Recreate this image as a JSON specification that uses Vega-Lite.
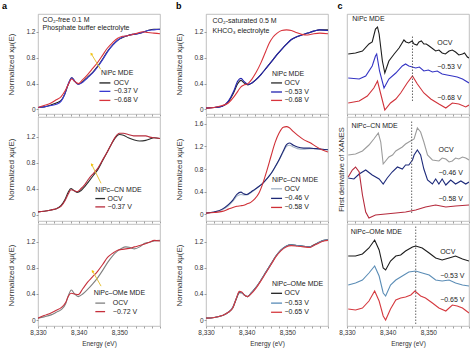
{
"$schema":"https://vega.github.io/schema/vega-lite/v6.json",
"padding":{"left":1,"top":1,"right":0,"bottom":0},
"datasets":{
"w":[
{"p":"a1","E":8330,"OCV":0.03,"m1":0.03,"m2":0.03},{"p":"a1","E":8331.5,"OCV":0.04,"m1":0.04,"m2":0.06},{"p":"a1","E":8333.2,"OCV":0.07,"m1":0.06,"m2":0.10},{"p":"a1","E":8334.5,"OCV":0.10,"m1":0.08,"m2":0.15},{"p":"a1","E":8335.7,"OCV":0.14,"m1":0.13,"m2":0.20},{"p":"a1","E":8336.6,"OCV":0.24,"m1":0.24,"m2":0.28},{"p":"a1","E":8337.4,"OCV":0.38,"m1":0.39,"m2":0.38},{"p":"a1","E":8338.3,"OCV":0.49,"m1":0.49,"m2":0.47},{"p":"a1","E":8339.1,"OCV":0.43,"m1":0.43,"m2":0.43},{"p":"a1","E":8339.9,"OCV":0.39,"m1":0.39,"m2":0.40},{"p":"a1","E":8341.0,"OCV":0.43,"m1":0.42,"m2":0.46},{"p":"a1","E":8342.2,"OCV":0.50,"m1":0.49,"m2":0.54},{"p":"a1","E":8343.4,"OCV":0.57,"m1":0.56,"m2":0.63},{"p":"a1","E":8344.7,"OCV":0.67,"m1":0.66,"m2":0.73},{"p":"a1","E":8345.9,"OCV":0.78,"m1":0.77,"m2":0.84},{"p":"a1","E":8347.1,"OCV":0.90,"m1":0.89,"m2":0.95},{"p":"a1","E":8348.3,"OCV":0.99,"m1":0.99,"m2":1.03},{"p":"a1","E":8349.6,"OCV":1.07,"m1":1.07,"m2":1.10},{"p":"a1","E":8350.8,"OCV":1.11,"m1":1.12,"m2":1.13},{"p":"a1","E":8352.0,"OCV":1.14,"m1":1.14,"m2":1.14},{"p":"a1","E":8353.3,"OCV":1.16,"m1":1.16,"m2":1.16},{"p":"a1","E":8354.5,"OCV":1.17,"m1":1.17,"m2":1.18},{"p":"a1","E":8355.7,"OCV":1.19,"m1":1.19,"m2":1.20},{"p":"a1","E":8357.0,"OCV":1.22,"m1":1.22,"m2":1.19},{"p":"a1","E":8358.5,"OCV":1.24,"m1":1.23,"m2":1.18},{"p":"a1","E":8360,"OCV":1.24,"m1":1.24,"m2":1.17},
{"p":"b1","E":8330,"OCV":0.02,"m1":0.02,"m2":0.02},{"p":"b1","E":8332,"OCV":0.03,"m1":0.03,"m2":0.03},{"p":"b1","E":8334,"OCV":0.05,"m1":0.05,"m2":0.06},{"p":"b1","E":8335.5,"OCV":0.12,"m1":0.13,"m2":0.10},{"p":"b1","E":8336.8,"OCV":0.26,"m1":0.28,"m2":0.19},{"p":"b1","E":8337.8,"OCV":0.40,"m1":0.44,"m2":0.28},{"p":"b1","E":8338.6,"OCV":0.45,"m1":0.48,"m2":0.35},{"p":"b1","E":8339.4,"OCV":0.41,"m1":0.43,"m2":0.38},{"p":"b1","E":8340.3,"OCV":0.38,"m1":0.39,"m2":0.40},{"p":"b1","E":8341.3,"OCV":0.41,"m1":0.41,"m2":0.47},{"p":"b1","E":8342.3,"OCV":0.46,"m1":0.46,"m2":0.57},{"p":"b1","E":8343.5,"OCV":0.54,"m1":0.54,"m2":0.72},{"p":"b1","E":8344.7,"OCV":0.63,"m1":0.63,"m2":0.90},{"p":"b1","E":8345.6,"OCV":0.70,"m1":0.70,"m2":1.03},{"p":"b1","E":8346.5,"OCV":0.77,"m1":0.77,"m2":1.12},{"p":"b1","E":8347.5,"OCV":0.85,"m1":0.85,"m2":1.18},{"p":"b1","E":8348.6,"OCV":0.93,"m1":0.93,"m2":1.22},{"p":"b1","E":8349.8,"OCV":1.01,"m1":1.01,"m2":1.23},{"p":"b1","E":8351.0,"OCV":1.08,"m1":1.08,"m2":1.22},{"p":"b1","E":8352.2,"OCV":1.12,"m1":1.12,"m2":1.19},{"p":"b1","E":8353.5,"OCV":1.15,"m1":1.15,"m2":1.16},{"p":"b1","E":8355.0,"OCV":1.18,"m1":1.18,"m2":1.15},{"p":"b1","E":8356.5,"OCV":1.21,"m1":1.21,"m2":1.17},{"p":"b1","E":8358.0,"OCV":1.23,"m1":1.23,"m2":1.18},{"p":"b1","E":8360,"OCV":1.23,"m1":1.22,"m2":1.17},
{"p":"a2","E":8330,"OCV":0.04,"m1":0.04},{"p":"a2","E":8331.5,"OCV":0.05,"m1":0.05},{"p":"a2","E":8333.2,"OCV":0.07,"m1":0.07},{"p":"a2","E":8334.5,"OCV":0.09,"m1":0.09},{"p":"a2","E":8335.7,"OCV":0.14,"m1":0.13},{"p":"a2","E":8336.7,"OCV":0.24,"m1":0.22},{"p":"a2","E":8337.4,"OCV":0.34,"m1":0.31},{"p":"a2","E":8338.1,"OCV":0.40,"m1":0.38},{"p":"a2","E":8338.8,"OCV":0.37,"m1":0.37},{"p":"a2","E":8339.6,"OCV":0.34,"m1":0.35},{"p":"a2","E":8340.6,"OCV":0.37,"m1":0.40},{"p":"a2","E":8341.5,"OCV":0.43,"m1":0.46},{"p":"a2","E":8342.5,"OCV":0.51,"m1":0.55},{"p":"a2","E":8343.6,"OCV":0.60,"m1":0.63},{"p":"a2","E":8344.7,"OCV":0.69,"m1":0.71},{"p":"a2","E":8345.9,"OCV":0.83,"m1":0.84},{"p":"a2","E":8347.1,"OCV":0.97,"m1":0.97},{"p":"a2","E":8348.1,"OCV":1.09,"m1":1.09},{"p":"a2","E":8349.0,"OCV":1.18,"m1":1.19},{"p":"a2","E":8350.0,"OCV":1.23,"m1":1.25},{"p":"a2","E":8351.0,"OCV":1.22,"m1":1.25},{"p":"a2","E":8352.2,"OCV":1.18,"m1":1.23},{"p":"a2","E":8353.5,"OCV":1.15,"m1":1.21},{"p":"a2","E":8355.0,"OCV":1.13,"m1":1.21},{"p":"a2","E":8356.5,"OCV":1.14,"m1":1.21},{"p":"a2","E":8357.5,"OCV":1.16,"m1":1.19},{"p":"a2","E":8358.5,"OCV":1.18,"m1":1.18},{"p":"a2","E":8360,"OCV":1.17,"m1":1.17},
{"p":"b2","E":8330,"OCV":0.02,"m1":0.02,"m2":0.02},{"p":"b2","E":8332,"OCV":0.04,"m1":0.04,"m2":0.03},{"p":"b2","E":8334,"OCV":0.08,"m1":0.09,"m2":0.05},{"p":"b2","E":8335.5,"OCV":0.15,"m1":0.17,"m2":0.09},{"p":"b2","E":8336.6,"OCV":0.23,"m1":0.25,"m2":0.12},{"p":"b2","E":8337.6,"OCV":0.32,"m1":0.35,"m2":0.14},{"p":"b2","E":8338.6,"OCV":0.35,"m1":0.39,"m2":0.15},{"p":"b2","E":8339.3,"OCV":0.34,"m1":0.36,"m2":0.16},{"p":"b2","E":8340.0,"OCV":0.34,"m1":0.35,"m2":0.18},{"p":"b2","E":8341.0,"OCV":0.38,"m1":0.39,"m2":0.21},{"p":"b2","E":8342.0,"OCV":0.43,"m1":0.44,"m2":0.27},{"p":"b2","E":8343.0,"OCV":0.49,"m1":0.49,"m2":0.37},{"p":"b2","E":8344.0,"OCV":0.55,"m1":0.55,"m2":0.55},{"p":"b2","E":8345.0,"OCV":0.63,"m1":0.63,"m2":0.78},{"p":"b2","E":8346.0,"OCV":0.72,"m1":0.72,"m2":1.03},{"p":"b2","E":8347.0,"OCV":0.83,"m1":0.84,"m2":1.27},{"p":"b2","E":8348.0,"OCV":0.96,"m1":0.97,"m2":1.44},{"p":"b2","E":8349.0,"OCV":1.10,"m1":1.12,"m2":1.54},{"p":"b2","E":8349.8,"OCV":1.20,"m1":1.23,"m2":1.55},{"p":"b2","E":8350.5,"OCV":1.22,"m1":1.26,"m2":1.53},{"p":"b2","E":8351.5,"OCV":1.19,"m1":1.22,"m2":1.46},{"p":"b2","E":8352.5,"OCV":1.16,"m1":1.19,"m2":1.40},{"p":"b2","E":8354.0,"OCV":1.15,"m1":1.17,"m2":1.32},{"p":"b2","E":8355.5,"OCV":1.16,"m1":1.17,"m2":1.27},{"p":"b2","E":8357.0,"OCV":1.16,"m1":1.16,"m2":1.20},{"p":"b2","E":8358.5,"OCV":1.15,"m1":1.15,"m2":1.14},{"p":"b2","E":8360,"OCV":1.14,"m1":1.14,"m2":1.10},
{"p":"a3","E":8330,"OCV":0.03,"m1":0.03},{"p":"a3","E":8331.5,"OCV":0.05,"m1":0.07},{"p":"a3","E":8333.2,"OCV":0.08,"m1":0.11},{"p":"a3","E":8334.5,"OCV":0.12,"m1":0.15},{"p":"a3","E":8335.7,"OCV":0.16,"m1":0.19},{"p":"a3","E":8336.8,"OCV":0.25,"m1":0.27},{"p":"a3","E":8337.5,"OCV":0.38,"m1":0.37},{"p":"a3","E":8338.2,"OCV":0.46,"m1":0.41},{"p":"a3","E":8339.0,"OCV":0.40,"m1":0.40},{"p":"a3","E":8339.9,"OCV":0.36,"m1":0.39},{"p":"a3","E":8341.0,"OCV":0.40,"m1":0.48},{"p":"a3","E":8342.2,"OCV":0.47,"m1":0.58},{"p":"a3","E":8343.4,"OCV":0.55,"m1":0.66},{"p":"a3","E":8344.7,"OCV":0.65,"m1":0.75},{"p":"a3","E":8345.9,"OCV":0.76,"m1":0.85},{"p":"a3","E":8347.1,"OCV":0.88,"m1":0.96},{"p":"a3","E":8348.3,"OCV":0.98,"m1":1.02},{"p":"a3","E":8349.6,"OCV":1.06,"m1":1.07},{"p":"a3","E":8350.6,"OCV":1.10,"m1":1.08},{"p":"a3","E":8351.6,"OCV":1.12,"m1":1.09},{"p":"a3","E":8352.7,"OCV":1.11,"m1":1.10},{"p":"a3","E":8353.7,"OCV":1.09,"m1":1.12},{"p":"a3","E":8355.0,"OCV":1.12,"m1":1.14},{"p":"a3","E":8356.1,"OCV":1.17,"m1":1.16},{"p":"a3","E":8357.4,"OCV":1.19,"m1":1.19},{"p":"a3","E":8358.6,"OCV":1.21,"m1":1.22},{"p":"a3","E":8360,"OCV":1.22,"m1":1.21},
{"p":"b3","E":8330,"OCV":0.03,"m1":0.03,"m2":0.03},{"p":"b3","E":8332,"OCV":0.04,"m1":0.04,"m2":0.04},{"p":"b3","E":8334,"OCV":0.07,"m1":0.07,"m2":0.07},{"p":"b3","E":8335.5,"OCV":0.12,"m1":0.12,"m2":0.12},{"p":"b3","E":8336.6,"OCV":0.19,"m1":0.20,"m2":0.19},{"p":"b3","E":8337.5,"OCV":0.33,"m1":0.34,"m2":0.34},{"p":"b3","E":8338.2,"OCV":0.42,"m1":0.43,"m2":0.44},{"p":"b3","E":8338.8,"OCV":0.42,"m1":0.42,"m2":0.43},{"p":"b3","E":8339.5,"OCV":0.38,"m1":0.38,"m2":0.38},{"p":"b3","E":8340.2,"OCV":0.36,"m1":0.36,"m2":0.36},{"p":"b3","E":8341.2,"OCV":0.42,"m1":0.42,"m2":0.41},{"p":"b3","E":8342.3,"OCV":0.50,"m1":0.50,"m2":0.49},{"p":"b3","E":8343.5,"OCV":0.61,"m1":0.61,"m2":0.60},{"p":"b3","E":8344.7,"OCV":0.73,"m1":0.73,"m2":0.72},{"p":"b3","E":8346.0,"OCV":0.86,"m1":0.86,"m2":0.85},{"p":"b3","E":8347.2,"OCV":0.98,"m1":0.98,"m2":0.97},{"p":"b3","E":8348.4,"OCV":1.07,"m1":1.07,"m2":1.06},{"p":"b3","E":8349.7,"OCV":1.13,"m1":1.13,"m2":1.12},{"p":"b3","E":8351.0,"OCV":1.15,"m1":1.15,"m2":1.14},{"p":"b3","E":8352.5,"OCV":1.14,"m1":1.14,"m2":1.13},{"p":"b3","E":8354.0,"OCV":1.13,"m1":1.13,"m2":1.12},{"p":"b3","E":8355.5,"OCV":1.12,"m1":1.12,"m2":1.11},{"p":"b3","E":8356.5,"OCV":1.15,"m1":1.14,"m2":1.14},{"p":"b3","E":8357.8,"OCV":1.19,"m1":1.19,"m2":1.18},{"p":"b3","E":8359,"OCV":1.22,"m1":1.22,"m2":1.21},{"p":"b3","E":8360,"OCV":1.23,"m1":1.23,"m2":1.22}
],
"c":[
{"p":"c1","s":"OCV","E":8330.3,"v":60},{"p":"c1","s":"OCV","E":8332.1,"v":61},{"p":"c1","s":"OCV","E":8333.8,"v":63},{"p":"c1","s":"OCV","E":8335.4,"v":70},{"p":"c1","s":"OCV","E":8336.2,"v":72},{"p":"c1","s":"OCV","E":8337.0,"v":85},{"p":"c1","s":"OCV","E":8337.5,"v":87},{"p":"c1","s":"OCV","E":8337.9,"v":80},{"p":"c1","s":"OCV","E":8338.7,"v":53},{"p":"c1","s":"OCV","E":8339.3,"v":41},{"p":"c1","s":"OCV","E":8340.3,"v":53},{"p":"c1","s":"OCV","E":8341.6,"v":60},{"p":"c1","s":"OCV","E":8342.8,"v":66},{"p":"c1","s":"OCV","E":8343.4,"v":70},{"p":"c1","s":"OCV","E":8344.0,"v":74},{"p":"c1","s":"OCV","E":8344.5,"v":72},{"p":"c1","s":"OCV","E":8345.2,"v":71},{"p":"c1","s":"OCV","E":8346.0,"v":73},{"p":"c1","s":"OCV","E":8346.5,"v":70},{"p":"c1","s":"OCV","E":8347.2,"v":69},{"p":"c1","s":"OCV","E":8347.7,"v":72},{"p":"c1","s":"OCV","E":8348.3,"v":73},{"p":"c1","s":"OCV","E":8348.9,"v":70},{"p":"c1","s":"OCV","E":8349.5,"v":70},{"p":"c1","s":"OCV","E":8350.2,"v":68},{"p":"c1","s":"OCV","E":8351.8,"v":63},{"p":"c1","s":"OCV","E":8352.6,"v":64},{"p":"c1","s":"OCV","E":8353.4,"v":61},{"p":"c1","s":"OCV","E":8354.2,"v":60},{"p":"c1","s":"OCV","E":8355.1,"v":63},{"p":"c1","s":"OCV","E":8355.9,"v":64},{"p":"c1","s":"OCV","E":8356.7,"v":62},{"p":"c1","s":"OCV","E":8357.5,"v":59},{"p":"c1","s":"OCV","E":8358.4,"v":60},{"p":"c1","s":"OCV","E":8358.9,"v":61},{"p":"c1","s":"OCV","E":8359.6,"v":57},{"p":"c1","s":"OCV","E":8360,"v":56},
{"p":"c1","s":"m1","E":8330.3,"v":36},{"p":"c1","s":"m1","E":8333.0,"v":35},{"p":"c1","s":"m1","E":8334.6,"v":38},{"p":"c1","s":"m1","E":8336.2,"v":48},{"p":"c1","s":"m1","E":8337.0,"v":58},{"p":"c1","s":"m1","E":8337.3,"v":60},{"p":"c1","s":"m1","E":8338.0,"v":43},{"p":"c1","s":"m1","E":8339.1,"v":26},{"p":"c1","s":"m1","E":8340.3,"v":35},{"p":"c1","s":"m1","E":8342.0,"v":41},{"p":"c1","s":"m1","E":8343.6,"v":48},{"p":"c1","s":"m1","E":8344.4,"v":50},{"p":"c1","s":"m1","E":8345.2,"v":48},{"p":"c1","s":"m1","E":8346.9,"v":46},{"p":"c1","s":"m1","E":8347.8,"v":47},{"p":"c1","s":"m1","E":8348.9,"v":43},{"p":"c1","s":"m1","E":8350.0,"v":44},{"p":"c1","s":"m1","E":8351.0,"v":42},{"p":"c1","s":"m1","E":8352.2,"v":43},{"p":"c1","s":"m1","E":8353.4,"v":40},{"p":"c1","s":"m1","E":8354.6,"v":39},{"p":"c1","s":"m1","E":8355.9,"v":38},{"p":"c1","s":"m1","E":8357.1,"v":37},{"p":"c1","s":"m1","E":8358.4,"v":35},{"p":"c1","s":"m1","E":8360,"v":31},
{"p":"c1","s":"m2","E":8330.3,"v":11},{"p":"c1","s":"m2","E":8333.0,"v":13},{"p":"c1","s":"m2","E":8335.0,"v":18},{"p":"c1","s":"m2","E":8336.6,"v":26},{"p":"c1","s":"m2","E":8337.5,"v":33},{"p":"c1","s":"m2","E":8338.3,"v":20},{"p":"c1","s":"m2","E":8339.3,"v":4},{"p":"c1","s":"m2","E":8340.7,"v":11},{"p":"c1","s":"m2","E":8342.0,"v":15},{"p":"c1","s":"m2","E":8343.2,"v":21},{"p":"c1","s":"m2","E":8344.8,"v":31},{"p":"c1","s":"m2","E":8346.1,"v":38},{"p":"c1","s":"m2","E":8347.3,"v":30},{"p":"c1","s":"m2","E":8348.9,"v":21},{"p":"c1","s":"m2","E":8350.6,"v":15},{"p":"c1","s":"m2","E":8352.6,"v":10},{"p":"c1","s":"m2","E":8354.3,"v":6},{"p":"c1","s":"m2","E":8355.9,"v":11},{"p":"c1","s":"m2","E":8357.5,"v":10},{"p":"c1","s":"m2","E":8359.2,"v":7},{"p":"c1","s":"m2","E":8360,"v":9},
{"p":"c2","s":"OCV","E":8330.3,"v":66},{"p":"c2","s":"OCV","E":8332.1,"v":67},{"p":"c2","s":"OCV","E":8333.8,"v":70},{"p":"c2","s":"OCV","E":8335.4,"v":76},{"p":"c2","s":"OCV","E":8336.6,"v":82},{"p":"c2","s":"OCV","E":8337.7,"v":88},{"p":"c2","s":"OCV","E":8338.3,"v":79},{"p":"c2","s":"OCV","E":8338.9,"v":57},{"p":"c2","s":"OCV","E":8340.3,"v":64},{"p":"c2","s":"OCV","E":8341.2,"v":66},{"p":"c2","s":"OCV","E":8342.0,"v":70},{"p":"c2","s":"OCV","E":8343.6,"v":74},{"p":"c2","s":"OCV","E":8344.4,"v":77},{"p":"c2","s":"OCV","E":8345.2,"v":79},{"p":"c2","s":"OCV","E":8346.5,"v":82},{"p":"c2","s":"OCV","E":8347.3,"v":93},{"p":"c2","s":"OCV","E":8348.1,"v":89},{"p":"c2","s":"OCV","E":8348.9,"v":79},{"p":"c2","s":"OCV","E":8349.8,"v":66},{"p":"c2","s":"OCV","E":8351.0,"v":61},{"p":"c2","s":"OCV","E":8352.6,"v":60},{"p":"c2","s":"OCV","E":8353.4,"v":63},{"p":"c2","s":"OCV","E":8354.3,"v":62},{"p":"c2","s":"OCV","E":8355.1,"v":59},{"p":"c2","s":"OCV","E":8355.9,"v":60},{"p":"c2","s":"OCV","E":8356.7,"v":63},{"p":"c2","s":"OCV","E":8357.5,"v":62},{"p":"c2","s":"OCV","E":8358.4,"v":64},{"p":"c2","s":"OCV","E":8359.2,"v":63},{"p":"c2","s":"OCV","E":8360,"v":61},
{"p":"c2","s":"m1","E":8330.3,"v":43},{"p":"c2","s":"m1","E":8331.7,"v":42},{"p":"c2","s":"m1","E":8333.0,"v":47},{"p":"c2","s":"m1","E":8334.6,"v":51},{"p":"c2","s":"m1","E":8336.2,"v":46},{"p":"c2","s":"m1","E":8337.9,"v":42},{"p":"c2","s":"m1","E":8338.9,"v":37},{"p":"c2","s":"m1","E":8339.9,"v":43},{"p":"c2","s":"m1","E":8341.1,"v":49},{"p":"c2","s":"m1","E":8342.4,"v":54},{"p":"c2","s":"m1","E":8343.6,"v":52},{"p":"c2","s":"m1","E":8344.4,"v":56},{"p":"c2","s":"m1","E":8345.2,"v":56},{"p":"c2","s":"m1","E":8346.1,"v":61},{"p":"c2","s":"m1","E":8346.5,"v":66},{"p":"c2","s":"m1","E":8347.3,"v":71},{"p":"c2","s":"m1","E":8348.1,"v":66},{"p":"c2","s":"m1","E":8348.9,"v":52},{"p":"c2","s":"m1","E":8349.8,"v":41},{"p":"c2","s":"m1","E":8351.0,"v":37},{"p":"c2","s":"m1","E":8351.8,"v":42},{"p":"c2","s":"m1","E":8352.6,"v":37},{"p":"c2","s":"m1","E":8353.4,"v":42},{"p":"c2","s":"m1","E":8354.3,"v":36},{"p":"c2","s":"m1","E":8355.5,"v":41},{"p":"c2","s":"m1","E":8356.7,"v":37},{"p":"c2","s":"m1","E":8358.0,"v":40},{"p":"c2","s":"m1","E":8359.2,"v":37},{"p":"c2","s":"m1","E":8360,"v":39},
{"p":"c2","s":"m2","E":8330.3,"v":44},{"p":"c2","s":"m2","E":8331.3,"v":51},{"p":"c2","s":"m2","E":8332.1,"v":54},{"p":"c2","s":"m2","E":8333.0,"v":49},{"p":"c2","s":"m2","E":8333.8,"v":26},{"p":"c2","s":"m2","E":8334.6,"v":9},{"p":"c2","s":"m2","E":8335.4,"v":3},{"p":"c2","s":"m2","E":8337.0,"v":6},{"p":"c2","s":"m2","E":8339.5,"v":7},{"p":"c2","s":"m2","E":8342.0,"v":8},{"p":"c2","s":"m2","E":8344.4,"v":9},{"p":"c2","s":"m2","E":8346.9,"v":11},{"p":"c2","s":"m2","E":8349.3,"v":14},{"p":"c2","s":"m2","E":8351.8,"v":16},{"p":"c2","s":"m2","E":8354.3,"v":14},{"p":"c2","s":"m2","E":8356.7,"v":15},{"p":"c2","s":"m2","E":8360,"v":16},
{"p":"c3","s":"OCV","E":8330.3,"v":70},{"p":"c3","s":"OCV","E":8332.1,"v":70},{"p":"c3","s":"OCV","E":8333.8,"v":72},{"p":"c3","s":"OCV","E":8335.4,"v":78},{"p":"c3","s":"OCV","E":8336.8,"v":86},{"p":"c3","s":"OCV","E":8337.9,"v":76},{"p":"c3","s":"OCV","E":8338.9,"v":58},{"p":"c3","s":"OCV","E":8339.5,"v":56},{"p":"c3","s":"OCV","E":8340.7,"v":65},{"p":"c3","s":"OCV","E":8342.0,"v":70},{"p":"c3","s":"OCV","E":8343.2,"v":71},{"p":"c3","s":"OCV","E":8344.4,"v":75},{"p":"c3","s":"OCV","E":8346.1,"v":79},{"p":"c3","s":"OCV","E":8346.9,"v":80},{"p":"c3","s":"OCV","E":8348.5,"v":78},{"p":"c3","s":"OCV","E":8350.2,"v":73},{"p":"c3","s":"OCV","E":8351.8,"v":68},{"p":"c3","s":"OCV","E":8353.4,"v":66},{"p":"c3","s":"OCV","E":8355.1,"v":68},{"p":"c3","s":"OCV","E":8356.7,"v":70},{"p":"c3","s":"OCV","E":8358.4,"v":67},{"p":"c3","s":"OCV","E":8360,"v":65},
{"p":"c3","s":"m1","E":8330.3,"v":41},{"p":"c3","s":"m1","E":8332.1,"v":43},{"p":"c3","s":"m1","E":8333.8,"v":46},{"p":"c3","s":"m1","E":8335.4,"v":53},{"p":"c3","s":"m1","E":8336.8,"v":60},{"p":"c3","s":"m1","E":8337.9,"v":50},{"p":"c3","s":"m1","E":8338.9,"v":33},{"p":"c3","s":"m1","E":8339.5,"v":30},{"p":"c3","s":"m1","E":8340.7,"v":41},{"p":"c3","s":"m1","E":8342.0,"v":46},{"p":"c3","s":"m1","E":8343.6,"v":50},{"p":"c3","s":"m1","E":8345.2,"v":54},{"p":"c3","s":"m1","E":8346.9,"v":55},{"p":"c3","s":"m1","E":8348.5,"v":53},{"p":"c3","s":"m1","E":8350.2,"v":51},{"p":"c3","s":"m1","E":8351.8,"v":46},{"p":"c3","s":"m1","E":8353.4,"v":45},{"p":"c3","s":"m1","E":8355.1,"v":46},{"p":"c3","s":"m1","E":8356.7,"v":43},{"p":"c3","s":"m1","E":8358.4,"v":41},{"p":"c3","s":"m1","E":8360,"v":40},
{"p":"c3","s":"m2","E":8330.3,"v":17},{"p":"c3","s":"m2","E":8332.1,"v":16},{"p":"c3","s":"m2","E":8333.8,"v":18},{"p":"c3","s":"m2","E":8335.4,"v":25},{"p":"c3","s":"m2","E":8336.8,"v":35},{"p":"c3","s":"m2","E":8337.9,"v":25},{"p":"c3","s":"m2","E":8338.9,"v":10},{"p":"c3","s":"m2","E":8339.5,"v":6},{"p":"c3","s":"m2","E":8340.7,"v":17},{"p":"c3","s":"m2","E":8342.0,"v":26},{"p":"c3","s":"m2","E":8343.2,"v":28},{"p":"c3","s":"m2","E":8344.4,"v":29},{"p":"c3","s":"m2","E":8345.7,"v":31},{"p":"c3","s":"m2","E":8346.7,"v":35},{"p":"c3","s":"m2","E":8348.1,"v":30},{"p":"c3","s":"m2","E":8349.3,"v":28},{"p":"c3","s":"m2","E":8351.0,"v":23},{"p":"c3","s":"m2","E":8352.6,"v":18},{"p":"c3","s":"m2","E":8354.3,"v":15},{"p":"c3","s":"m2","E":8355.9,"v":21},{"p":"c3","s":"m2","E":8357.1,"v":20},{"p":"c3","s":"m2","E":8358.4,"v":18},{"p":"c3","s":"m2","E":8360,"v":13}
],
"lg":[
{"p":"a1","s":"OCV","E":8345.1,"E2":8347.8,"v":0.41},{"p":"a1","s":"m1","E":8345.1,"E2":8347.8,"v":0.28},{"p":"a1","s":"m2","E":8345.1,"E2":8347.8,"v":0.14},
{"p":"b1","s":"OCV","E":8346.0,"E2":8348.7,"v":0.41},{"p":"b1","s":"m1","E":8346.0,"E2":8348.7,"v":0.27},{"p":"b1","s":"m2","E":8346.0,"E2":8348.7,"v":0.14},
{"p":"a2","s":"OCV","E":8344.1,"E2":8346.5,"v":0.245},{"p":"a2","s":"m1","E":8344.1,"E2":8346.5,"v":0.117},
{"p":"b2","s":"OCV","E":8346.0,"E2":8348.7,"v":0.45},{"p":"b2","s":"m1","E":8346.0,"E2":8348.7,"v":0.28},{"p":"b2","s":"m2","E":8346.0,"E2":8348.7,"v":0.12},
{"p":"a3","s":"OCV","E":8344.1,"E2":8346.5,"v":0.26},{"p":"a3","s":"m1","E":8344.1,"E2":8346.5,"v":0.13},
{"p":"b3","s":"OCV","E":8346.0,"E2":8348.7,"v":0.41},{"p":"b3","s":"m1","E":8346.0,"E2":8348.7,"v":0.26},{"p":"b3","s":"m2","E":8346.0,"E2":8348.7,"v":0.12}
],
"tx":[
{"p":"a1","E":8331.1,"v":1.39,"t":"CO₂-free 0.1 M"},{"p":"a1","E":8331.1,"v":1.26,"t":"Phosphate buffer electrolyte"},{"p":"a1","E":8345.5,"v":0.57,"t":"NiPc MDE"},{"p":"a1","E":8348.6,"v":0.41,"t":"OCV"},{"p":"a1","E":8348.6,"v":0.28,"t":"−0.37 V"},{"p":"a1","E":8348.6,"v":0.14,"t":"−0.68 V"},
{"p":"b1","E":8331.6,"v":1.36,"t":"CO₂-saturated 0.5 M"},{"p":"b1","E":8331.6,"v":1.22,"t":"KHCO₃ electrolyte"},{"p":"b1","E":8346.2,"v":0.55,"t":"NiPc MDE"},{"p":"b1","E":8349.3,"v":0.41,"t":"OCV"},{"p":"b1","E":8349.3,"v":0.27,"t":"−0.53 V"},{"p":"b1","E":8349.3,"v":0.14,"t":"−0.68 V"},
{"p":"a2","E":8344.1,"v":0.38,"t":"NiPc–CN MDE"},{"p":"a2","E":8347.1,"v":0.245,"t":"OCV"},{"p":"a2","E":8347.1,"v":0.117,"t":"−0.37 V"},
{"p":"b2","E":8346.2,"v":0.61,"t":"NiPc–CN MDE"},{"p":"b2","E":8349.3,"v":0.45,"t":"OCV"},{"p":"b2","E":8349.3,"v":0.28,"t":"−0.46 V"},{"p":"b2","E":8349.3,"v":0.12,"t":"−0.58 V"},
{"p":"a3","E":8343.7,"v":0.41,"t":"NiPc–OMe MDE"},{"p":"a3","E":8348.4,"v":0.26,"t":"OCV"},{"p":"a3","E":8348.4,"v":0.13,"t":"−0.72 V"},
{"p":"b3","E":8346.2,"v":0.55,"t":"NiPc–OMe MDE"},{"p":"b3","E":8349.3,"v":0.41,"t":"OCV"},{"p":"b3","E":8349.3,"v":0.26,"t":"−0.53 V"},{"p":"b3","E":8349.3,"v":0.12,"t":"−0.65 V"},
{"p":"c1","E":8331.3,"v":94.7,"t":"NiPc MDE"},{"p":"c1","E":8352.2,"v":71,"t":"OCV"},{"p":"c1","E":8352.2,"v":47,"t":"−0.53 V"},{"p":"c1","E":8352.2,"v":15.7,"t":"−0.68 V"},
{"p":"c2","E":8331.1,"v":95,"t":"NiPc–CN MDE"},{"p":"c2","E":8352.5,"v":71.3,"t":"OCV"},{"p":"c2","E":8352.5,"v":48.3,"t":"−0.46 V"},{"p":"c2","E":8352.5,"v":22.3,"t":"−0.58 V"},
{"p":"c3","E":8330.9,"v":93.7,"t":"NiPc–OMe MDE"},{"p":"c3","E":8352.9,"v":73.7,"t":"OCV"},{"p":"c3","E":8352.9,"v":49.7,"t":"−0.53 V"},{"p":"c3","E":8352.9,"v":25.7,"t":"−0.65 V"}
],
"ar":[
{"p":"a1","E":8345.4,"v":0.62,"E2":8343.1,"v2":0.86},
{"p":"a2","E":8345.5,"v":0.48,"E2":8343.2,"v2":0.77},
{"p":"a3","E":8345.5,"v":0.52,"E2":8343.4,"v2":0.75}
],
"dt":[
{"p":"c1","E":8346.1,"v":13,"v2":78},
{"p":"c2","E":8345.9,"v":8,"v2":100},
{"p":"c3","E":8346.9,"v":2,"v2":101}
]
},
"hconcat":[
{"vconcat":[
{"width":122,"height":100,"title":{"text":"a","dx":-6},
"layer":[
{"data":{"name":"w"},"transform":[{"filter":"datum.p==='a1'"},{"fold":["OCV","m1","m2"],"as":["s","v"]},{"filter":"isValid(datum.v)"}],"mark":{"type":"line","strokeWidth":1.1,"clip":true,"interpolate":"monotone"},
"encoding":{"x":{"field":"E","type":"quantitative","scale":{"domain":[8330,8360],"nice":false,"zero":false},"axis":{"values":[8330,8332,8334,8336,8338,8340,8342,8344,8346,8348,8350,8352,8354,8356,8358,8360],"tickCount":50,"labels":false,"title":null}},
"y":{"field":"v","type":"quantitative","scale":{"domain":[-0.07,1.475],"nice":false,"zero":false},"axis":{"values":[0,0.4,0.8,1.2],"tickCount":50,"format":"~g","labelOverlap":false,"title":"Normalized xμ(E)"}},
"color":{"field":"s","type":"nominal","scale":{"domain":["OCV","m1","m2"],"range":["#1c1c1c","#3a3ad0","#d8343c"]},"legend":null}}},
{"data":{"name":"lg"},"transform":[{"filter":"datum.p==='a1'"}],"mark":{"type":"rule","strokeWidth":1.3},"encoding":{"x":{"field":"E","type":"quantitative"},"x2":{"field":"E2"},"y":{"field":"v","type":"quantitative"},"color":{"field":"s","type":"nominal","scale":{"domain":["OCV","m1","m2"],"range":["#1c1c1c","#3a3ad0","#d8343c"]},"legend":null}}},
{"data":{"name":"ar"},"transform":[{"filter":"datum.p==='a1'"}],"mark":{"type":"rule","color":"#e6c23a","strokeWidth":1},"encoding":{"x":{"field":"E","type":"quantitative"},"x2":{"field":"E2"},"y":{"field":"v","type":"quantitative"},"y2":{"field":"v2"}}},
{"data":{"name":"ar"},"transform":[{"filter":"datum.p==='a1'"}],"mark":{"type":"point","shape":"triangle-up","filled":true,"size":10,"angle":-35,"color":"#f2c20a","opacity":1},"encoding":{"x":{"field":"E2","type":"quantitative"},"y":{"field":"v2","type":"quantitative"}}},
{"data":{"name":"tx"},"transform":[{"filter":"datum.p==='a1'"}],"mark":{"type":"text","align":"left","baseline":"middle","fontSize":7,"color":"#222"},"encoding":{"x":{"field":"E","type":"quantitative"},"y":{"field":"v","type":"quantitative"},"text":{"field":"t"}}}
]},
{"width":122,"height":104,
"layer":[
{"data":{"name":"w"},"transform":[{"filter":"datum.p==='a2'"},{"fold":["OCV","m1","m2"],"as":["s","v"]},{"filter":"isValid(datum.v)"}],"mark":{"type":"line","strokeWidth":1.1,"clip":true,"interpolate":"monotone"},
"encoding":{"x":{"field":"E","type":"quantitative","scale":{"domain":[8330,8360],"nice":false,"zero":false},"axis":{"values":[8330,8332,8334,8336,8338,8340,8342,8344,8346,8348,8350,8352,8354,8356,8358,8360],"tickCount":50,"labels":false,"title":null}},
"y":{"field":"v","type":"quantitative","scale":{"domain":[-0.1,1.5],"nice":false,"zero":false},"axis":{"values":[0,0.4,0.8,1.2],"tickCount":50,"format":"~g","labelOverlap":false,"title":"Normalized xμ(E)"}},
"color":{"field":"s","type":"nominal","scale":{"domain":["OCV","m1","m2"],"range":["#2e2e2e","#b82c3c","#d8343c"]},"legend":null}}},
{"data":{"name":"lg"},"transform":[{"filter":"datum.p==='a2'"}],"mark":{"type":"rule","strokeWidth":1.3},"encoding":{"x":{"field":"E","type":"quantitative"},"x2":{"field":"E2"},"y":{"field":"v","type":"quantitative"},"color":{"field":"s","type":"nominal","scale":{"domain":["OCV","m1","m2"],"range":["#2e2e2e","#b82c3c","#d8343c"]},"legend":null}}},
{"data":{"name":"ar"},"transform":[{"filter":"datum.p==='a2'"}],"mark":{"type":"rule","color":"#e6c23a","strokeWidth":1},"encoding":{"x":{"field":"E","type":"quantitative"},"x2":{"field":"E2"},"y":{"field":"v","type":"quantitative"},"y2":{"field":"v2"}}},
{"data":{"name":"ar"},"transform":[{"filter":"datum.p==='a2'"}],"mark":{"type":"point","shape":"triangle-up","filled":true,"size":10,"angle":-35,"color":"#f2c20a","opacity":1},"encoding":{"x":{"field":"E2","type":"quantitative"},"y":{"field":"v2","type":"quantitative"}}},
{"data":{"name":"tx"},"transform":[{"filter":"datum.p==='a2'"}],"mark":{"type":"text","align":"left","baseline":"middle","fontSize":7,"color":"#222"},"encoding":{"x":{"field":"E","type":"quantitative"},"y":{"field":"v","type":"quantitative"},"text":{"field":"t"}}}
]},
{"width":122,"height":102,
"layer":[
{"data":{"name":"w"},"transform":[{"filter":"datum.p==='a3'"},{"fold":["OCV","m1","m2"],"as":["s","v"]},{"filter":"isValid(datum.v)"}],"mark":{"type":"line","strokeWidth":1.1,"clip":true,"interpolate":"monotone"},
"encoding":{"x":{"field":"E","type":"quantitative","scale":{"domain":[8330,8360],"nice":false,"zero":false},"axis":{"values":[8330,8332,8334,8336,8338,8340,8342,8344,8346,8348,8350,8352,8354,8356,8358,8360],"tickCount":50,"labelExpr":"datum.value % 10 === 0 && datum.value < 8360 ? format(datum.value, ',') : ''","labelFlush":false,"labelOverlap":false,"title":"Energy (eV)"}},
"y":{"field":"v","type":"quantitative","scale":{"domain":[-0.09,1.47],"nice":false,"zero":false},"axis":{"values":[0,0.4,0.8,1.2],"tickCount":50,"format":"~g","labelOverlap":false,"title":"Normalized xμ(E)"}},
"color":{"field":"s","type":"nominal","scale":{"domain":["OCV","m1","m2"],"range":["#808080","#c6303c","#d8343c"]},"legend":null}}},
{"data":{"name":"lg"},"transform":[{"filter":"datum.p==='a3'"}],"mark":{"type":"rule","strokeWidth":1.3},"encoding":{"x":{"field":"E","type":"quantitative"},"x2":{"field":"E2"},"y":{"field":"v","type":"quantitative"},"color":{"field":"s","type":"nominal","scale":{"domain":["OCV","m1","m2"],"range":["#808080","#c6303c","#d8343c"]},"legend":null}}},
{"data":{"name":"ar"},"transform":[{"filter":"datum.p==='a3'"}],"mark":{"type":"rule","color":"#e6c23a","strokeWidth":1},"encoding":{"x":{"field":"E","type":"quantitative"},"x2":{"field":"E2"},"y":{"field":"v","type":"quantitative"},"y2":{"field":"v2"}}},
{"data":{"name":"ar"},"transform":[{"filter":"datum.p==='a3'"}],"mark":{"type":"point","shape":"triangle-up","filled":true,"size":10,"angle":-35,"color":"#f2c20a","opacity":1},"encoding":{"x":{"field":"E2","type":"quantitative"},"y":{"field":"v2","type":"quantitative"}}},
{"data":{"name":"tx"},"transform":[{"filter":"datum.p==='a3'"}],"mark":{"type":"text","align":"left","baseline":"middle","fontSize":7,"color":"#222"},"encoding":{"x":{"field":"E","type":"quantitative"},"y":{"field":"v","type":"quantitative"},"text":{"field":"t"}}}
]}
],"spacing":-2,"resolve":{"scale":{"x":"independent","y":"independent","color":"independent"}}},
{"hconcat":[
{"vconcat":[
{"width":122,"height":100,"title":{"text":"b","dx":0},
"layer":[
{"data":{"name":"w"},"transform":[{"filter":"datum.p==='b1'"},{"fold":["OCV","m1","m2"],"as":["s","v"]},{"filter":"isValid(datum.v)"}],"mark":{"type":"line","strokeWidth":1.1,"clip":true,"interpolate":"monotone"},
"encoding":{"x":{"field":"E","type":"quantitative","scale":{"domain":[8330,8360],"nice":false,"zero":false},"axis":{"values":[8330,8332,8334,8336,8338,8340,8342,8344,8346,8348,8350,8352,8354,8356,8358,8360],"tickCount":50,"labels":false,"title":null}},
"y":{"field":"v","type":"quantitative","scale":{"domain":[-0.07,1.475],"nice":false,"zero":false},"axis":{"values":[0,0.4,0.8,1.2],"tickCount":50,"format":"~g","labelOverlap":false,"title":"Normalized xμ(E)"}},
"color":{"field":"s","type":"nominal","scale":{"domain":["OCV","m1","m2"],"range":["#2a2a2a","#2323b0","#d8343c"]},"legend":null}}},
{"data":{"name":"lg"},"transform":[{"filter":"datum.p==='b1'"}],"mark":{"type":"rule","strokeWidth":1.3},"encoding":{"x":{"field":"E","type":"quantitative"},"x2":{"field":"E2"},"y":{"field":"v","type":"quantitative"},"color":{"field":"s","type":"nominal","scale":{"domain":["OCV","m1","m2"],"range":["#2a2a2a","#2323b0","#d8343c"]},"legend":null}}},
{"data":{"name":"tx"},"transform":[{"filter":"datum.p==='b1'"}],"mark":{"type":"text","align":"left","baseline":"middle","fontSize":7,"color":"#222"},"encoding":{"x":{"field":"E","type":"quantitative"},"y":{"field":"v","type":"quantitative"},"text":{"field":"t"}}}
]},
{"width":122,"height":104,
"layer":[
{"data":{"name":"w"},"transform":[{"filter":"datum.p==='b2'"},{"fold":["OCV","m1","m2"],"as":["s","v"]},{"filter":"isValid(datum.v)"}],"mark":{"type":"line","strokeWidth":1.1,"clip":true,"interpolate":"monotone"},
"encoding":{"x":{"field":"E","type":"quantitative","scale":{"domain":[8330,8360],"nice":false,"zero":false},"axis":{"values":[8330,8332,8334,8336,8338,8340,8342,8344,8346,8348,8350,8352,8354,8356,8358,8360],"tickCount":50,"labels":false,"title":null}},
"y":{"field":"v","type":"quantitative","scale":{"domain":[-0.12,1.72],"nice":false,"zero":false},"axis":{"values":[0,0.4,0.8,1.2,1.6],"tickCount":50,"format":"~g","labelOverlap":false,"title":"Normalized xμ(E)"}},
"color":{"field":"s","type":"nominal","scale":{"domain":["OCV","m1","m2"],"range":["#a3b3c6","#1d2875","#cf2f36"]},"legend":null}}},
{"data":{"name":"lg"},"transform":[{"filter":"datum.p==='b2'"}],"mark":{"type":"rule","strokeWidth":1.3},"encoding":{"x":{"field":"E","type":"quantitative"},"x2":{"field":"E2"},"y":{"field":"v","type":"quantitative"},"color":{"field":"s","type":"nominal","scale":{"domain":["OCV","m1","m2"],"range":["#a3b3c6","#1d2875","#cf2f36"]},"legend":null}}},
{"data":{"name":"tx"},"transform":[{"filter":"datum.p==='b2'"}],"mark":{"type":"text","align":"left","baseline":"middle","fontSize":7,"color":"#222"},"encoding":{"x":{"field":"E","type":"quantitative"},"y":{"field":"v","type":"quantitative"},"text":{"field":"t"}}}
]},
{"width":122,"height":102,
"layer":[
{"data":{"name":"w"},"transform":[{"filter":"datum.p==='b3'"},{"fold":["OCV","m1","m2"],"as":["s","v"]},{"filter":"isValid(datum.v)"}],"mark":{"type":"line","strokeWidth":1.1,"clip":true,"interpolate":"monotone"},
"encoding":{"x":{"field":"E","type":"quantitative","scale":{"domain":[8330,8360],"nice":false,"zero":false},"axis":{"values":[8330,8332,8334,8336,8338,8340,8342,8344,8346,8348,8350,8352,8354,8356,8358,8360],"tickCount":50,"labelExpr":"datum.value % 10 === 0 && datum.value < 8360 ? format(datum.value, ',') : ''","labelFlush":false,"labelOverlap":false,"title":"Energy (eV)"}},
"y":{"field":"v","type":"quantitative","scale":{"domain":[-0.09,1.47],"nice":false,"zero":false},"axis":{"values":[0,0.4,0.8,1.2],"tickCount":50,"format":"~g","labelOverlap":false,"title":"Normalized xμ(E)"}},
"color":{"field":"s","type":"nominal","scale":{"domain":["OCV","m1","m2"],"range":["#222222","#5a8cb8","#d63a40"]},"legend":null}}},
{"data":{"name":"lg"},"transform":[{"filter":"datum.p==='b3'"}],"mark":{"type":"rule","strokeWidth":1.3},"encoding":{"x":{"field":"E","type":"quantitative"},"x2":{"field":"E2"},"y":{"field":"v","type":"quantitative"},"color":{"field":"s","type":"nominal","scale":{"domain":["OCV","m1","m2"],"range":["#222222","#5a8cb8","#d63a40"]},"legend":null}}},
{"data":{"name":"tx"},"transform":[{"filter":"datum.p==='b3'"}],"mark":{"type":"text","align":"left","baseline":"middle","fontSize":7,"color":"#222"},"encoding":{"x":{"field":"E","type":"quantitative"},"y":{"field":"v","type":"quantitative"},"text":{"field":"t"}}}
]}
],"spacing":-2,"resolve":{"scale":{"x":"independent","y":"independent","color":"independent"}}},
{"vconcat":[
{"width":122,"height":100,"title":{"text":"c","dx":-9},
"layer":[
{"data":{"name":"c"},"transform":[{"filter":"datum.p==='c1'"}],"mark":{"type":"line","strokeWidth":1.1,"clip":true},
"encoding":{"x":{"field":"E","type":"quantitative","scale":{"domain":[8330,8360],"nice":false,"zero":false},"axis":{"values":[8330,8332,8334,8336,8338,8340,8342,8344,8346,8348,8350,8352,8354,8356,8358,8360],"tickCount":50,"labels":false,"title":null}},
"y":{"field":"v","type":"quantitative","scale":{"domain":[0,100],"nice":false,"zero":false},"axis":null},
"color":{"field":"s","type":"nominal","scale":{"domain":["OCV","m1","m2"],"range":["#1c1c1c","#3434c4","#d0323a"]},"legend":null}}},
{"data":{"name":"dt"},"transform":[{"filter":"datum.p==='c1'"}],"mark":{"type":"rule","strokeDash":[1.5,1.5],"color":"#555","strokeWidth":0.9},"encoding":{"x":{"field":"E","type":"quantitative"},"y":{"field":"v","type":"quantitative"},"y2":{"field":"v2"}}},
{"data":{"name":"tx"},"transform":[{"filter":"datum.p==='c1'"}],"mark":{"type":"text","align":"left","baseline":"middle","fontSize":7,"color":"#222"},"encoding":{"x":{"field":"E","type":"quantitative"},"y":{"field":"v","type":"quantitative"},"text":{"field":"t"}}}
]},
{"width":122,"height":104,
"layer":[
{"data":{"name":"c"},"transform":[{"filter":"datum.p==='c2'"}],"mark":{"type":"line","strokeWidth":1.1,"clip":true},
"encoding":{"x":{"field":"E","type":"quantitative","scale":{"domain":[8330,8360],"nice":false,"zero":false},"axis":{"values":[8330,8332,8334,8336,8338,8340,8342,8344,8346,8348,8350,8352,8354,8356,8358,8360],"tickCount":50,"labels":false,"title":null}},
"y":{"field":"v","type":"quantitative","scale":{"domain":[0,104],"nice":false,"zero":false},"axis":{"labels":false,"ticks":false,"title":"First derivative of XANES","titlePadding":2,"titleFontSize":7.5}},
"color":{"field":"s","type":"nominal","scale":{"domain":["OCV","m1","m2"],"range":["#9c9c9c","#1d2a7a","#b52a3c"]},"legend":null}}},
{"data":{"name":"dt"},"transform":[{"filter":"datum.p==='c2'"}],"mark":{"type":"rule","strokeDash":[1.5,1.5],"color":"#555","strokeWidth":0.9},"encoding":{"x":{"field":"E","type":"quantitative"},"y":{"field":"v","type":"quantitative"},"y2":{"field":"v2"}}},
{"data":{"name":"tx"},"transform":[{"filter":"datum.p==='c2'"}],"mark":{"type":"text","align":"left","baseline":"middle","fontSize":7,"color":"#222"},"encoding":{"x":{"field":"E","type":"quantitative"},"y":{"field":"v","type":"quantitative"},"text":{"field":"t"}}}
]},
{"width":122,"height":102,
"layer":[
{"data":{"name":"c"},"transform":[{"filter":"datum.p==='c3'"}],"mark":{"type":"line","strokeWidth":1.1,"clip":true},
"encoding":{"x":{"field":"E","type":"quantitative","scale":{"domain":[8330,8360],"nice":false,"zero":false},"axis":{"values":[8330,8332,8334,8336,8338,8340,8342,8344,8346,8348,8350,8352,8354,8356,8358,8360],"tickCount":50,"labelExpr":"datum.value % 10 === 0 && datum.value < 8360 ? format(datum.value, ',') : ''","labelFlush":false,"labelOverlap":false,"title":"Energy (eV)"}},
"y":{"field":"v","type":"quantitative","scale":{"domain":[0,102],"nice":false,"zero":false},"axis":null},
"color":{"field":"s","type":"nominal","scale":{"domain":["OCV","m1","m2"],"range":["#1c1c1c","#5b8db6","#d5393f"]},"legend":null}}},
{"data":{"name":"dt"},"transform":[{"filter":"datum.p==='c3'"}],"mark":{"type":"rule","strokeDash":[1.5,1.5],"color":"#555","strokeWidth":0.9},"encoding":{"x":{"field":"E","type":"quantitative"},"y":{"field":"v","type":"quantitative"},"y2":{"field":"v2"}}},
{"data":{"name":"tx"},"transform":[{"filter":"datum.p==='c3'"}],"mark":{"type":"text","align":"left","baseline":"middle","fontSize":7,"color":"#222"},"encoding":{"x":{"field":"E","type":"quantitative"},"y":{"field":"v","type":"quantitative"},"text":{"field":"t"}}}
]}
],"spacing":-2,"resolve":{"scale":{"x":"independent","y":"independent","color":"independent"}}}
],"spacing":7,"resolve":{"scale":{"x":"independent","y":"independent","color":"independent"}}}
],
"spacing":14,
"resolve":{"scale":{"x":"independent","y":"independent","color":"independent"}},
"config":{
"font":"Liberation Sans",
"view":{"stroke":"#b0b0b0","strokeWidth":0.8},
"axis":{"domain":false,"grid":false,"tickColor":"#888","tickSize":2,"tickWidth":0.8,"tickCount":50,"labelFontSize":6.5,"labelColor":"#333","labelPadding":1,"labelOverlap":false,"labelFlush":false,"labelBound":false,"titleFontSize":8,"titleFontWeight":"normal","titleColor":"#333","titlePadding":10},
"axisX":{"titlePadding":5,"titleFontSize":6.5},
"title":{"anchor":"start","frame":"bounds","fontSize":9,"fontWeight":"bold","offset":3,"color":"#000"}
}
}
